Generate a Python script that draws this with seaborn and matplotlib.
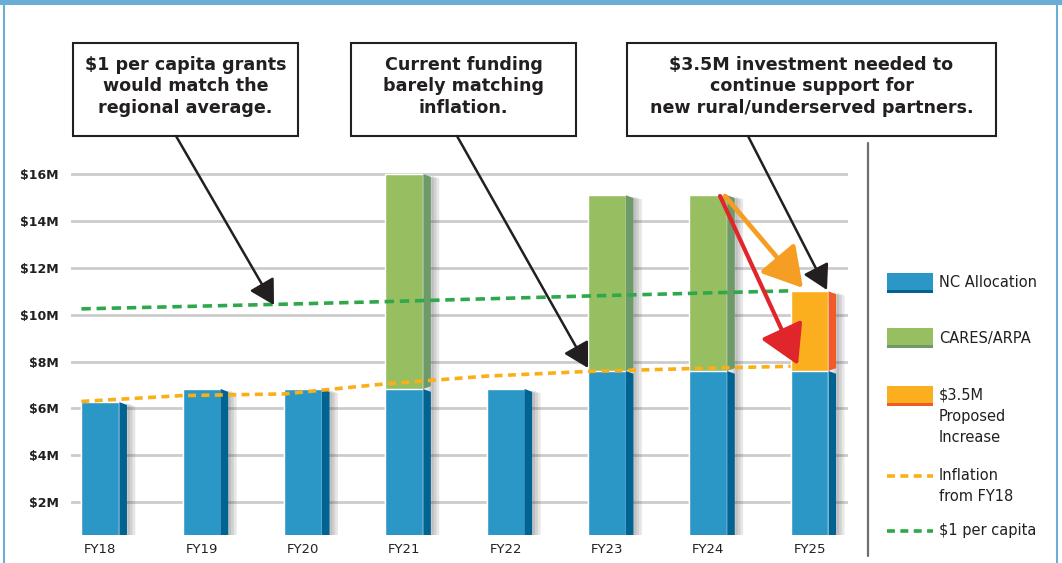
import numpy as np
import pandas as pd
import matplotlib
matplotlib.use("Agg")
import matplotlib.pyplot as plt
import matplotlib.patheffects as pe
import seaborn as sns
from matplotlib.patches import Rectangle, FancyArrowPatch
from matplotlib.lines import Line2D

# values in $M
years = ['FY18', 'FY19', 'FY20', 'FY21', 'FY22', 'FY23', 'FY24', 'FY25']
nc_allocation = [6.27, 6.83, 6.83, 6.83, 6.83, 7.6, 7.6, 7.6]
cares_arpa = [0, 0, 0, 9.17, 0, 7.5, 7.5, 0]
proposed_increase = [0, 0, 0, 0, 0, 0, 0, 3.4]
inflation = [6.3, 6.55, 6.62, 7.05, 7.38, 7.58, 7.7, 7.8]
per_capita = [10.25, 10.35, 10.45, 10.56, 10.68, 10.8, 10.91, 11.02]
y_ticks = [2, 4, 6, 8, 10, 12, 14, 16]
y_tick_labels = ['$2M', '$4M', '$6M', '$8M', '$10M', '$12M', '$14M', '$16M']

BLUE, BLUE_SIDE = '#2a97c6', '#006391'
GREEN, GREEN_SIDE = '#97bf62', '#6e9a6a'
ORANGE, ORANGE_SIDE = '#fbaf1e', '#ef5c2a'
LINE_ORANGE, LINE_GREEN = '#fbaf17', '#2ea84a'
FRAME = '#6aaed6'
INK = '#231f20'

sns.set_style('white')
plt.rcParams['font.family'] = ['DejaVu Sans']
plt.rcParams['text.parse_math'] = False

W, H = 1062, 563


def fx(px):
    return px / W


def fy(py):
    return 1 - py / H


df = pd.DataFrame({'year': years, 'nc': nc_allocation,
                   'cares': cares_arpa, 'proposed': proposed_increase})
df['total'] = df.nc + df.cares + df.proposed
df['kind'] = np.where(df.cares > 0, 'cares', np.where(df.proposed > 0, 'proposed', 'none'))

fig = plt.figure(figsize=(W / 100, H / 100), dpi=100)
ax = fig.add_axes([fx(71), fy(535), fx(848) - fx(71), fy(165) - fy(535)])

bw, sw = 0.375, 0.075
sns.barplot(data=df, x='year', y='total', hue='kind',
            palette={'none': BLUE, 'cares': GREEN, 'proposed': ORANGE},
            dodge=False, width=bw, saturation=1, legend=False, ax=ax, zorder=3)
sns.barplot(data=df, x='year', y='nc', color=BLUE, width=bw,
            saturation=1, ax=ax, zorder=3)

# side faces of the 3D bars, with a soft shadow behind
side_of = {'none': BLUE_SIDE, 'cares': GREEN_SIDE, 'proposed': ORANGE_SIDE}
shadow = [pe.SimplePatchShadow(offset=(k, -1), shadow_rgbFace='#444444', alpha=0.13)
          for k in (2, 4, 6)]
d = 0.12
for i, row in df.iterrows():
    xr = i + bw / 2
    segs = [(0, row.nc, BLUE_SIDE)]
    if row.total > row.nc:
        segs.append((row.nc, row.total, side_of[row.kind]))
    ax.fill([xr, xr + sw, xr + sw, xr], [0, d, row.total - d, row.total],
            color='none', lw=0, zorder=2.5, path_effects=shadow)
    for lo, hi, c in segs:
        ax.fill([xr, xr + sw, xr + sw, xr], [lo, lo + d, hi - d, hi],
                color=c, lw=0, zorder=3.1)

xs = np.arange(len(years)) - bw / 2
ax.plot(xs, inflation, color=LINE_ORANGE, lw=2.6, ls=(0, (2.2, 1.5)), zorder=4)
ax.plot(xs, per_capita, color=LINE_GREEN, lw=2.6, ls=(0, (2.6, 1.6)), zorder=4)

ax.set_xlim(-0.29, 7.38)
ax.set_ylim(0.6, 16.39)
ax.set_yticks(y_ticks)
ax.set_yticklabels(y_tick_labels, fontsize=9, fontweight='bold', color=INK)
ax.tick_params(axis='y', length=0, pad=9)
ax.tick_params(axis='x', length=0, pad=6, labelsize=9.5, labelcolor=INK)
ax.yaxis.grid(True, color='#cccccc', lw=2)
ax.set_axisbelow(True)
ax.set_xlabel('')
ax.set_ylabel('')
sns.despine(ax=ax, left=True, bottom=True)

# frame of the picture
fig.add_artist(Rectangle((0, fy(5)), 1, 1 - fy(5), transform=fig.transFigure,
                         color=FRAME, lw=0))
fig.add_artist(Line2D([fx(4), fx(4)], [0, fy(4)], transform=fig.transFigure,
                      color=FRAME, lw=1.5))
fig.add_artist(Line2D([fx(1057), fx(1057)], [0, fy(4)], transform=fig.transFigure,
                      color=FRAME, lw=1.5))
fig.add_artist(Line2D([fx(868), fx(868)], [fy(556), fy(143)], transform=fig.transFigure,
                      color='#6d6e71', lw=1.6))

# callout boxes
boxes = [
    (73, 298, '$1 per capita grants\nwould match the\nregional average.'),
    (351, 576, 'Current funding\nbarely matching\ninflation.'),
    (627, 996, '$3.5M investment needed to\ncontinue support for\nnew rural/underserved partners.'),
]
for x0, x1, txt in boxes:
    fig.add_artist(Rectangle((fx(x0), fy(136)), fx(x1) - fx(x0), fy(43) - fy(136),
                             transform=fig.transFigure, fc='white', ec=INK, lw=1.5,
                             zorder=5))
    fig.text(fx((x0 + x1) / 2), fy(86), txt, ha='center', va='center',
             fontsize=12.6, fontweight='bold', color=INK, linespacing=1.25, zorder=6)


def arrow(p0, p1, color, lw, hl, hw):
    fig.add_artist(FancyArrowPatch(
        (fx(p0[0]), fy(p0[1])), (fx(p1[0]), fy(p1[1])), transform=fig.transFigure,
        arrowstyle=f'-|>,head_length={hl},head_width={hw}', mutation_scale=10,
        color=color, lw=lw, shrinkA=0, shrinkB=0, zorder=7))


arrow((176, 136), (274, 305), INK, 1.8, 1.5, 0.85)
arrow((457, 136), (588, 368), INK, 1.8, 1.5, 0.85)
arrow((748, 136), (827, 290), INK, 1.8, 1.5, 0.85)
arrow((725, 196), (803, 288), '#f59e23', 3.4, 2.4, 1.4)
arrow((720, 196), (798, 365), '#e0262a', 3.0, 2.4, 1.4)

# legend, drawn by hand to follow the reference layout
leg_items = [
    ('patch', 273, BLUE, BLUE_SIDE, 'NC Allocation', 283),
    ('patch', 328, GREEN, GREEN_SIDE, 'CARES/ARPA', 338),
    ('patch', 386, ORANGE, ORANGE_SIDE, '$3.5M\nProposed\nIncrease', 416),
    ('line', 476, LINE_ORANGE, None, 'Inflation\nfrom FY18', 486),
    ('line', 531, LINE_GREEN, None, '$1 per capita', 531),
]
for kind, py, c, c2, label, ty in leg_items:
    if kind == 'patch':
        fig.add_artist(Rectangle((fx(887), fy(py + 17)), fx(933) - fx(887), fy(py) - fy(py + 17),
                                 transform=fig.transFigure, color=c, lw=0))
        fig.add_artist(Rectangle((fx(887), fy(py + 20)), fx(933) - fx(887), fy(py + 17) - fy(py + 20),
                                 transform=fig.transFigure, color=c2, lw=0))
    else:
        fig.add_artist(Line2D([fx(887), fx(933)], [fy(py), fy(py)], transform=fig.transFigure,
                              color=c, lw=2.6, ls=(0, (2.2, 1.5))))
    fig.text(fx(939), fy(ty), label, ha='left', va='center',
             fontsize=10.5, color=INK, linespacing=1.5)

fig.savefig('out.png', dpi=100)
